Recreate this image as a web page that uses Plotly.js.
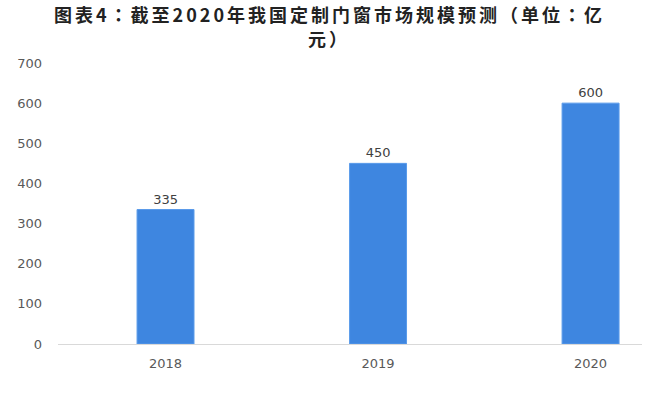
<!DOCTYPE html>
<html>
<head>
<meta charset="utf-8">
<script src="https://cdn.plot.ly/plotly-3.0.1.min.js"></script>
<style>
html,body{margin:0;padding:0;background:#fff;}
#chart{width:654px;height:401px;}
#chart text.annotation-text{letter-spacing:3px;}
</style>
</head>
<body>
<div id="chart"></div>
<script>
const years = ["2018", "2019", "2020"];
const values = [335, 450, 600];
const yTicks = [0, 100, 200, 300, 400, 500, 600, 700];
const titleLines = ["图表4：截至2020年我国定制门窗市场规模预测（单位：亿", "元）"];

const numFont = "DejaVu Sans, Verdana, sans-serif";

const trace = {
  type: "bar",
  x: [0, 1, 2],
  y: values,
  width: 0.268,
  marker: {color: "#3E86E0", line: {color: "#5A9BEA", width: 1}},
  text: values.map(String),
  textposition: "outside",
  textfont: {family: numFont, size: 13, color: "#404040"},
  cliponaxis: false,
  hoverinfo: "none"
};

const titleFont = {family: "Noto Sans CJK JP, Noto Sans CJK SC, sans-serif", size: 18, color: "#222", weight: "bold"};
const titleY = [14, 38];

const layout = {
  width: 654, height: 401,
  margin: {l: 58, r: 12, t: 63, b: 57},
  paper_bgcolor: "#fff", plot_bgcolor: "#fff",
  showlegend: false,
  annotations: titleLines.map((t, i) => ({
    text: t, showarrow: false,
    xref: "paper", yref: "paper",
    x: (329 - 58) / 584, xanchor: "center",
    y: 1 + (63 - titleY[i]) / 281, yanchor: "middle",
    font: titleFont
  })),
  xaxis: {
    range: [-0.506, 2.242],
    tickvals: [0, 1, 2], ticktext: years,
    showgrid: false, zeroline: false,
    showline: true, linecolor: "#d9d9d9", linewidth: 1,
    ticks: "", ticklabelstandoff: 7,
    tickfont: {family: numFont, size: 13, color: "#595959"},
    fixedrange: true
  },
  yaxis: {
    range: [0, 700],
    tickvals: yTicks,
    showgrid: false, zeroline: false, showline: false,
    ticks: "", ticklabelstandoff: 15,
    tickfont: {family: numFont, size: 13, color: "#595959"},
    fixedrange: true
  }
};

Plotly.newPlot("chart", [trace], layout, {displayModeBar: false, staticPlot: true});
</script>
</body>
</html>
